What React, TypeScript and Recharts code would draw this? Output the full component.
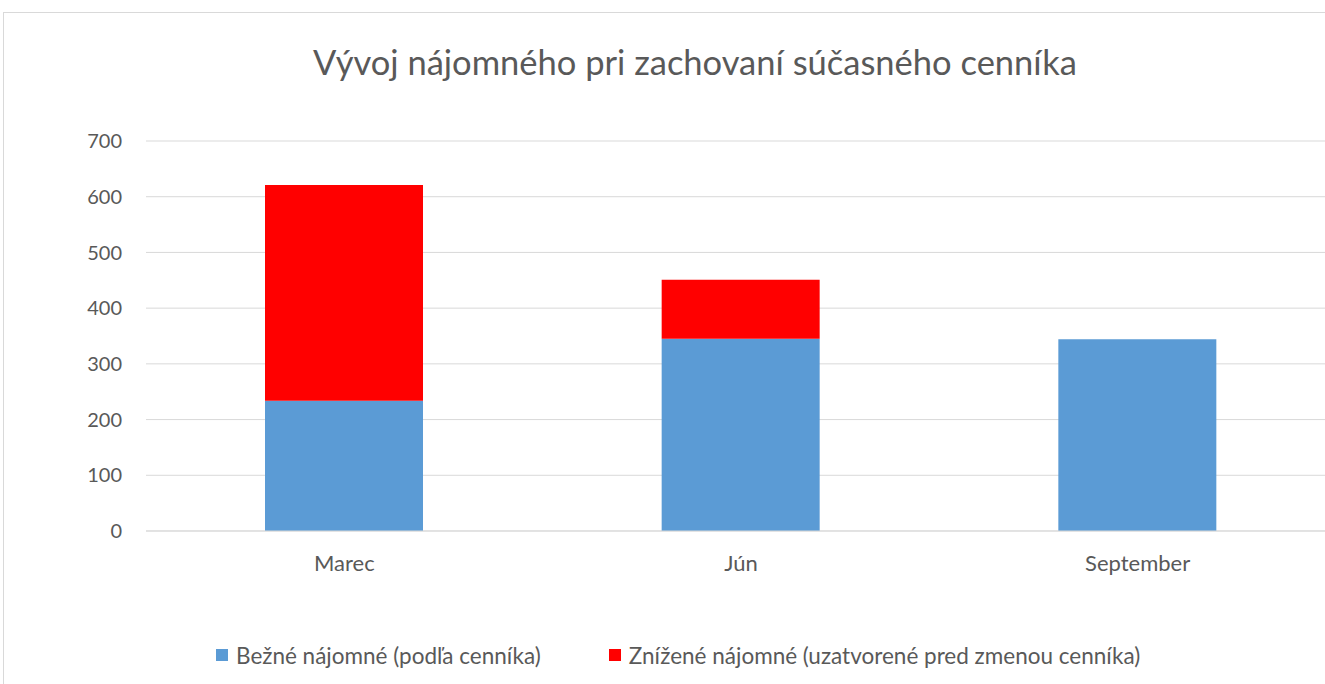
import { BarChart, Bar, XAxis, YAxis, CartesianGrid } from 'recharts';

const months = ['Marec', 'Jún', 'September'];
const regularRent = [234, 345, 344];
const reducedRent = [387, 106, 0];
const yTicks = [0, 100, 200, 300, 400, 500, 600, 700];

const series = [
  { key: 'regular', name: 'Bežné nájomné (podľa cenníka)', color: '#5B9BD5' },
  { key: 'reduced', name: 'Znížené nájomné (uzatvorené pred zmenou cenníka)', color: '#FF0000' },
];

const data = months.map((month, i) => ({
  month,
  regular: regularRent[i],
  reduced: reducedRent[i],
}));

const font = 'Lato, "Open Sans", sans-serif';
const textColor = '#595959';

export default function App() {
  return (
    <div
      style={{
        position: 'absolute',
        left: 0,
        top: 0,
        width: 1325,
        height: 684,
        overflow: 'hidden',
        background: '#fff',
        fontFamily: font,
      }}
    >
      <div
        style={{
          position: 'absolute',
          left: 3,
          top: 12,
          width: 1340,
          height: 700,
          border: '1px solid #d9d9d9',
        }}
      />
      <div
        style={{
          position: 'absolute',
          left: 0,
          top: 40,
          width: 1390,
          textAlign: 'center',
          fontSize: 34.5,
          lineHeight: '44px',
          color: textColor,
        }}
      >
        Vývoj nájomného pri zachovaní súčasného cenníka
      </div>

      <div style={{ position: 'absolute', left: 0, top: 0 }}>
        <BarChart
          width={1345}
          height={684}
          data={data}
          margin={{ top: 141, right: 9, bottom: 123, left: 86 }}
        >
          <CartesianGrid vertical={false} stroke="#d9d9d9" />
          <XAxis
            dataKey="month"
            height={30}
            tickLine={false}
            axisLine={{ stroke: '#d9d9d9' }}
            tickMargin={18}
            tick={{ fill: textColor, fontSize: 22, fontFamily: font }}
          />
          <YAxis
            width={60}
            domain={[0, 700]}
            ticks={yTicks}
            tickLine={false}
            axisLine={false}
            tickMargin={18}
            tick={{ fill: textColor, fontSize: 20, fontFamily: font }}
          />
          {series.map((s) => (
            <Bar
              key={s.key}
              dataKey={s.key}
              name={s.name}
              stackId="rent"
              fill={s.color}
              barSize={158}
              isAnimationActive={false}
            />
          ))}
        </BarChart>
      </div>

      <div
        style={{
          position: 'absolute',
          left: 216,
          top: 640,
          height: 30,
          display: 'flex',
          alignItems: 'center',
          fontSize: 22.5,
          color: textColor,
        }}
      >
        {series.map((s, i) => (
          <div
            key={s.key}
            style={{ display: 'flex', alignItems: 'center', marginRight: i === 0 ? 68 : 0 }}
          >
            <span style={{ width: 12, height: 12, background: s.color, marginRight: 8 }} />
            <span>{s.name}</span>
          </div>
        ))}
      </div>
    </div>
  );
}
